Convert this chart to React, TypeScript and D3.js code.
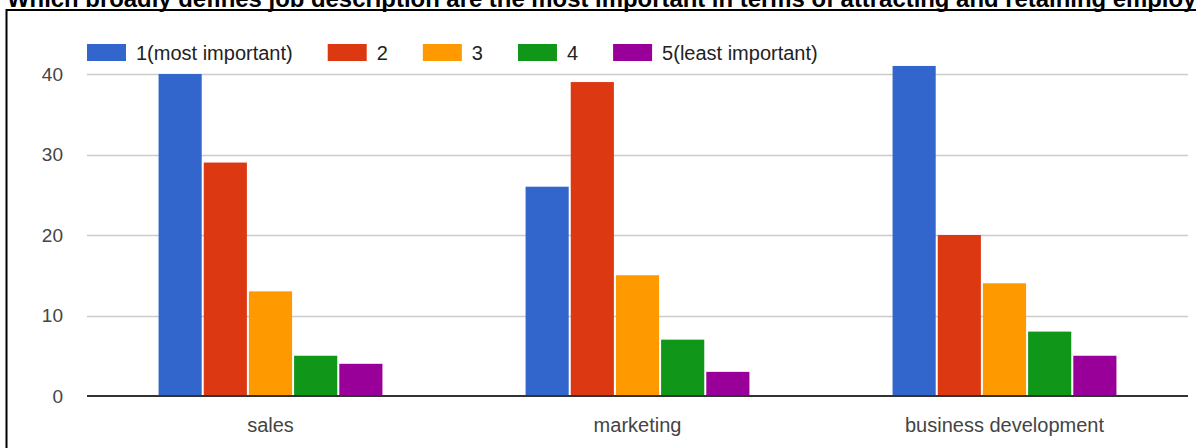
import React, { useEffect, useRef } from "react";
import * as d3 from "d3";

const title =
  "Which broadly defines job description are the most important in terms of attracting and retaining employees?";
const categories = ["sales", "marketing", "business development"];
const seriesNames = ["1(most important)", "2", "3", "4", "5(least important)"];
const seriesColors = ["#3366cc", "#dc3912", "#ff9900", "#109618", "#990099"];
const values: number[][] = [
  [40, 29, 13, 5, 4],
  [26, 39, 15, 7, 3],
  [41, 20, 14, 8, 5],
];
const yTicks = [0, 10, 20, 30, 40];

const W = 1196;
const H = 448;
const M = { left: 87, right: 1188, top: 74, bottom: 396 };

export default function App() {
  const ref = useRef<SVGSVGElement>(null);

  useEffect(() => {
    const svg = d3.select(ref.current);
    svg.selectAll("*").remove();

    svg.append("rect").attr("width", W).attr("height", H).attr("fill", "#fff");

    const x0 = d3
      .scaleBand<string>()
      .domain(categories)
      .range([M.left, M.right])
      .paddingInner(0.39)
      .paddingOuter(0.195);
    const x1 = d3
      .scaleBand<string>()
      .domain(seriesNames)
      .range([0, x0.bandwidth()])
      .paddingInner(0.045);
    const y = d3.scaleLinear().domain([0, 40]).range([M.bottom, M.top]);

    // title (cut off at the top edge, as in the reference)
    svg
      .append("text")
      .attr("x", 7)
      .attr("y", 6.5)
      .attr("font-family", "Liberation Sans, Arial, sans-serif")
      .attr("font-weight", "bold")
      .attr("font-size", 23.9)
      .attr("fill", "#000")
      .text(title);

    // border
    svg
      .append("path")
      .attr("d", `M6.5,${H} V10 H${W}`)
      .attr("fill", "none")
      .attr("stroke", "#000")
      .attr("stroke-width", 2);

    // gridlines
    svg
      .append("g")
      .selectAll("line")
      .data(yTicks.filter((t) => t !== 0))
      .join("line")
      .attr("x1", M.left)
      .attr("x2", M.right)
      .attr("y1", (d) => Math.round(y(d)) + 0.5)
      .attr("y2", (d) => Math.round(y(d)) + 0.5)
      .attr("stroke", "#cccccc")
      .attr("stroke-width", 1.5);

    // y labels
    svg
      .append("g")
      .selectAll("text")
      .data(yTicks)
      .join("text")
      .attr("x", 63)
      .attr("y", (d) => y(d))
      .attr("dy", "0.36em")
      .attr("text-anchor", "end")
      .attr("font-family", "Liberation Sans, Arial, sans-serif")
      .attr("font-size", 19)
      .attr("fill", "#444")
      .text((d) => String(d));

    // bars
    const groups = svg
      .append("g")
      .selectAll("g")
      .data(categories)
      .join("g")
      .attr("transform", (c) => `translate(${x0(c)},0)`);
    groups
      .selectAll("rect")
      .data((c, i) => values[i].map((v, j) => ({ v, s: seriesNames[j], color: seriesColors[j] })))
      .join("rect")
      .attr("x", (d) => x1(d.s)!)
      .attr("width", x1.bandwidth())
      .attr("y", (d) => y(d.v))
      .attr("height", (d) => y(0) - y(d.v))
      .attr("fill", (d) => d.color);

    // baseline
    svg
      .append("line")
      .attr("x1", M.left)
      .attr("x2", M.right)
      .attr("y1", y(0))
      .attr("y2", y(0))
      .attr("stroke", "#333")
      .attr("stroke-width", 2);

    // x labels
    svg
      .append("g")
      .selectAll("text")
      .data(categories)
      .join("text")
      .attr("x", (c) => x0(c)! + x0.bandwidth() / 2)
      .attr("y", 432)
      .attr("text-anchor", "middle")
      .attr("font-family", "Liberation Sans, Arial, sans-serif")
      .attr("font-size", 20)
      .attr("fill", "#444")
      .text((c) => c);

    // legend
    const lg = svg.append("g");
    let lx = 87;
    seriesNames.forEach((name, i) => {
      lg.append("rect")
        .attr("x", lx)
        .attr("y", 44)
        .attr("width", 39)
        .attr("height", 17)
        .attr("fill", seriesColors[i]);
      const t = lg
        .append("text")
        .attr("x", lx + 49)
        .attr("y", 52.5)
        .attr("dy", "0.36em")
        .attr("font-family", "Liberation Sans, Arial, sans-serif")
        .attr("font-size", 20)
        .attr("fill", "#222")
        .text(name);
      const tw = (t.node() as SVGTextElement).getComputedTextLength();
      lx = lx + 49 + tw + 35;
    });
  }, []);

  return (
    <svg
      ref={ref}
      width={W}
      height={H}
      style={{ position: "absolute", left: 0, top: 0, display: "block" }}
    />
  );
}
